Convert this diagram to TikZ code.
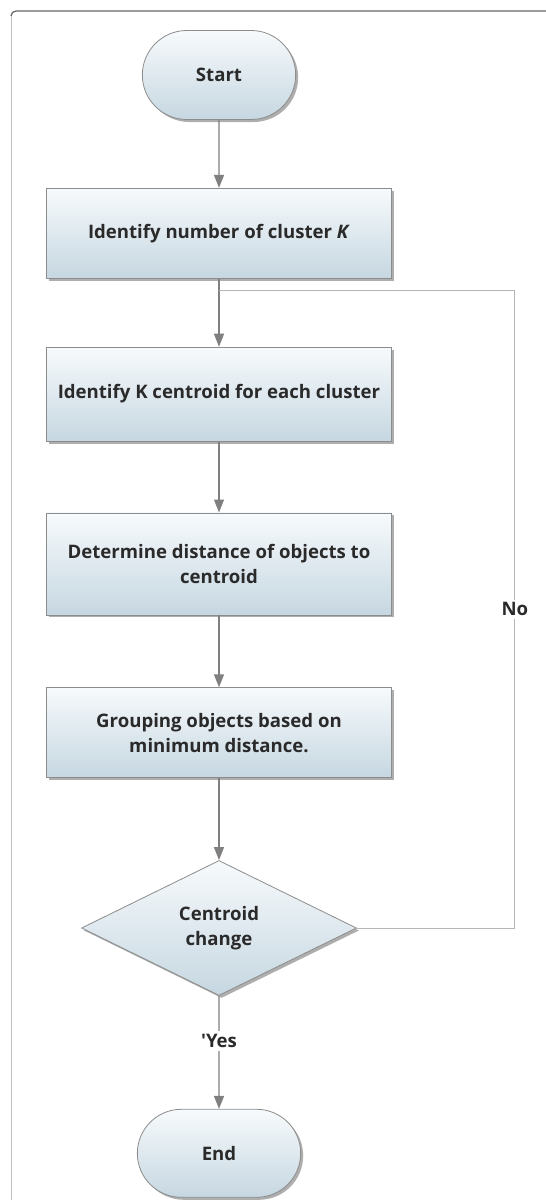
\documentclass[tikz,border=0pt]{standalone}
\usepackage{fontspec}
\setmainfont{Open Sans}
\usepackage{tikz}
\usetikzlibrary{positioning}
\usetikzlibrary{shapes.geometric, shapes.misc, arrows.meta, shadows}
\definecolor{boxtop}{HTML}{F7FAFC}
\definecolor{boxbottom}{HTML}{C6D7E1}
\definecolor{edgegray}{HTML}{8C8C8C}
\definecolor{arrowgray}{HTML}{808080}
\definecolor{loopgray}{HTML}{B5B5B5}
\definecolor{textgray}{HTML}{2A2A2A}
\tikzstyle{arrow} = [line width=1.4pt,draw=arrowgray,-{Triangle[width=10pt,length=13pt]}]
\tikzstyle{loopline} = [line width=1pt,draw=loopgray]
\tikzstyle{boxtext} = [font=\fontsize{18.6}{25}\selectfont\bfseries,text=textgray]
\tikzstyle{flowshade} = [draw=edgegray,line width=0.8pt,top color=boxtop,bottom color=boxbottom,
	drop shadow={shadow xshift=2.5pt,shadow yshift=-2.5pt,opacity=0.45,fill=black!70}]
\tikzstyle{terminal} = [rounded rectangle,flowshade,boxtext,minimum width=160pt,minimum height=89pt]
\tikzstyle{process} = [rectangle,flowshade,boxtext,minimum width=345pt,minimum height=90pt,align=center]
\tikzstyle{decision} = [diamond,flowshade,boxtext,aspect=2,minimum width=275pt,minimum height=135pt,inner sep=0pt,align=center]
\tikzstyle{edgelabel} = [boxtext,fill=white,inner sep=3pt]

\begin{document}
\begin{tikzpicture}[x=1pt,y=1pt]
	%Frame
	\useasboundingbox (0,0) rectangle (546,-1200);
	\draw[line width=1pt,draw=black!25] (11,-1200) -- (11,-15);
	\draw[line width=1.2pt,draw=black!60] (11,-16) arc (180:90:5) -- (546,-11);
	
	%Nodes
	\node [terminal] (start) at (219,-75) {Start};
	\node [process, below=68pt of start] (clusterK) {Identify number of cluster \textit{K}};
	\node [process, minimum height=94pt, below=68pt of clusterK] (centroidK) {Identify K centroid for each cluster};
	\node [process, minimum height=102pt, below=71pt of centroidK] (distance) {Determine distance of objects to\\centroid};
	\node [process, below=72pt of distance] (grouping) {Grouping objects based on\\minimum distance.};
	\node [decision, below=82pt of grouping] (change) {Centroid\\change};
	\node [terminal, minimum width=170pt, minimum height=88pt, below=113pt of change] (finish) {End};
	
	%Coordinates
	\coordinate [below=12pt of clusterK.south] (split);
	\coordinate [right=158pt of change.east] (loopcorner);
	
	%Lines
	\draw[arrow] (start) -- (clusterK);
	\draw[arrow] (clusterK) -- (centroidK);
	\draw[arrow] (centroidK) -- (distance);
	\draw[arrow] (distance) -- (grouping);
	\draw[arrow] (grouping) -- (change);
	\draw[arrow] (change) -- node[edgelabel, pos=0.4] (yesLabel) {\textquotesingle Yes} (finish);
	\draw[loopline] (change.east) -- (loopcorner)
		-- node[edgelabel, midway] (noLabel) {No} (loopcorner |- split) -- (split);
	
\end{tikzpicture}
\end{document}
